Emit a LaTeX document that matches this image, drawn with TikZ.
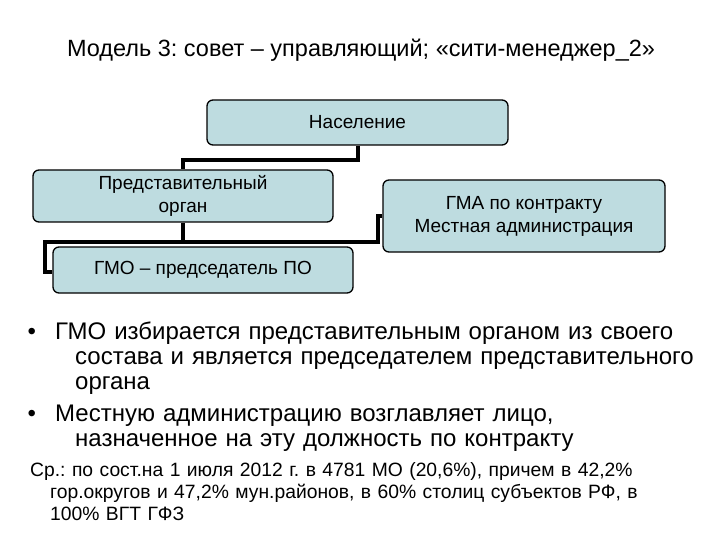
\documentclass[tikz,border=0pt]{standalone}
\usepackage{fontspec}
\setmainfont{Liberation Sans}
\usetikzlibrary{backgrounds}
\frenchspacing
\begin{document}
\begin{tikzpicture}[x=1pt,y=-1pt,
  box/.style={draw=black,line width=1.3pt,fill=boxfill,rounded corners=6pt,inner sep=0pt,align=center,font=\fontsize{19}{23}\selectfont},
  link/.style={line width=4pt}]
\definecolor{boxfill}{HTML}{BEDCE0}
\useasboundingbox (0,0) rectangle (720,540);
\node[anchor=center,font=\fontsize{23.5}{28}\selectfont] (title) at (361,50) {Модель 3: совет – управляющий; «сити-менеджер\_2»};
\coordinate (c1) at (358,160);
\coordinate (c2) at (183,160);
\coordinate (c3) at (183,242);
\coordinate (c4) at (378,242);
\coordinate (c5) at (378,216);
\coordinate (c6) at (45,242);
\coordinate (c7) at (45,272);
\node[box,minimum width=301pt,minimum height=45pt] (nas) at (357.5,122.5) {Население};
\node[box,minimum width=300pt,minimum height=52pt] (pred) at (183,196) {Представительный\\орган};
\node[box,minimum width=282pt,minimum height=72pt] (gma) at (524,216) {ГМА по контракту\\Местная администрация};
\node[box,minimum width=300pt,minimum height=46pt] (gmo) at (203,270) {ГМО – председатель ПО};
\begin{scope}[on background layer]
\draw[link] (nas.south -| c1) -- (c1) -- (c2) -- (pred.north -| c2);
\draw[link] (pred.south -| c3) -- (c3) -- (c4) -- (c5) -- (gma.west |- c5);
\draw[link] (c3) -- (c6) -- (c7) -- (gmo.west |- c7);
\end{scope}
\begin{scope}[font=\fontsize{24}{25}\selectfont]
\node[anchor=base west] (b1) at (24,339) {•};
\node[anchor=base west,align=left,text width=680pt,inner sep=0pt] (t1) at (55,339) {ГМО избирается представительным органом из своего\\\hspace*{20pt}состава и является председателем представительного\\\hspace*{20pt}органа};
\node[anchor=base west] (b2) at (24,421) {•};
\node[anchor=base west,align=left,text width=680pt,inner sep=0pt] (t2) at (55,421) {Местную администрацию возглавляет лицо,\\\hspace*{20pt}назначенное на эту должность по контракту};
\end{scope}
\node[anchor=base west,align=left,text width=690pt,inner sep=0pt,font=\fontsize{19.3}{22}\selectfont] (t3) at (30,476) {Ср.: по сост.на 1 июля 2012 г. в 4781 МО (20,6\%), причем в 42,2\%\\\hspace*{20pt}гор.округов и 47,2\% мун.районов, в 60\% столиц субъектов РФ, в\\\hspace*{20pt}100\% ВГТ ГФЗ};
\end{tikzpicture}
\end{document}
